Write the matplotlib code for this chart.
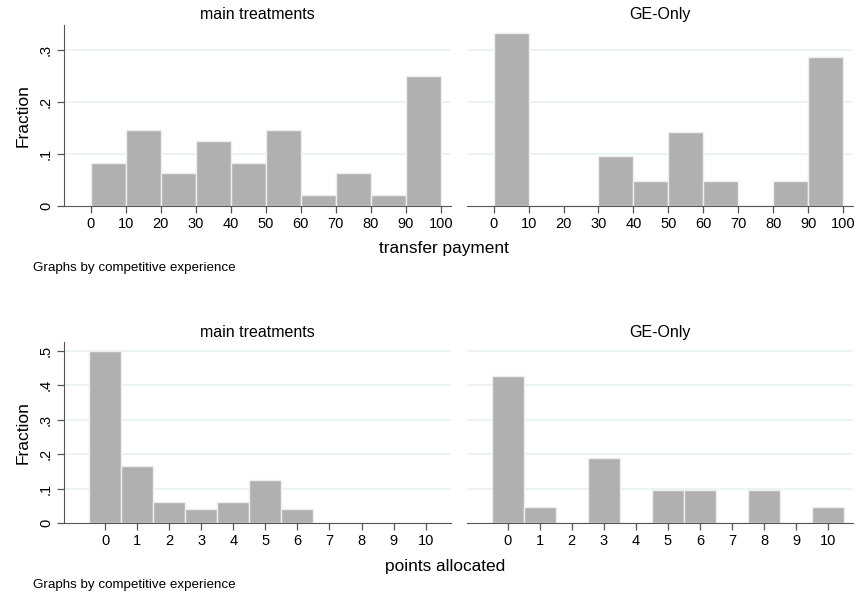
import numpy as np
import matplotlib.pyplot as plt

plt.rcParams['font.family'] = ['Liberation Sans', 'DejaVu Sans']

# transfer payment histograms (bin width 10)
transfer_bins = np.arange(0, 100, 10)
transfer_main = [0.0833, 0.1458, 0.0625, 0.125, 0.0833, 0.1458, 0.0208, 0.0625, 0.0208, 0.25]
transfer_ge = [0.3333, 0, 0, 0.0952, 0.0476, 0.1429, 0.0476, 0, 0.0476, 0.2857]

# points allocated histograms (discrete 0..10)
points_bins = np.arange(0, 11)
points_main = [0.5, 0.1667, 0.0625, 0.0417, 0.0625, 0.125, 0.0417, 0, 0, 0, 0]
points_ge = [0.4286, 0.0476, 0, 0.1905, 0, 0.0952, 0.0952, 0, 0.0952, 0, 0.0476]

panel_titles = ['main treatments', 'GE-Only']

bar_color = '#b0b0b0'
grid_color = '#e9f1f2'
axis_color = '#555555'

fig = plt.figure(figsize=(8.58, 5.97), dpi=100)
W, H = 858, 597


def px_axes(x0, x1, ytop, ybot):
    return fig.add_axes([x0 / W, 1 - ybot / H, (x1 - x0) / W, (ybot - ytop) / H])


def style(ax, yticks, ylabels, show_y):
    for s in ['top', 'right']:
        ax.spines[s].set_visible(False)
    ax.spines['bottom'].set_color(axis_color)
    ax.spines['left'].set_color(axis_color)
    ax.spines['left'].set_visible(show_y)
    ax.set_yticks(yticks)
    ax.tick_params(axis='both', colors=axis_color, labelcolor='black',
                   labelsize=10.5, length=5, width=0.9, pad=3)
    if show_y:
        ax.set_yticklabels(ylabels, rotation=90, va='center')
    else:
        ax.tick_params(axis='y', left=False, labelleft=False)
    for yv in yticks[1:]:
        ax.axhline(yv, color=grid_color, lw=1.2, zorder=0)


# top row
top_yt = [0, 0.1, 0.2, 0.3]
top_yl = ['0', '.1', '.2', '.3']
for i, (vals, x0, x1) in enumerate([(transfer_main, 64, 450.7), (transfer_ge, 466.7, 853)]):
    ax = px_axes(x0, x1, 25, 206)
    ax.bar(transfer_bins, vals, width=10, align='edge', color=bar_color,
           edgecolor='#eeeeee', linewidth=1, zorder=2)
    ax.set_xlim(-7.7, 102.8)
    ax.set_ylim(0, 0.348)
    ax.set_xticks(np.arange(0, 101, 10))
    style(ax, top_yt, top_yl, i == 0)
    ax.set_title(panel_titles[i], fontsize=11.5, pad=4)
    if i == 0:
        ax.set_ylabel('Fraction', fontsize=12.5, labelpad=6)

# bottom row
bot_yt = [0, 0.1, 0.2, 0.3, 0.4, 0.5]
bot_yl = ['0', '.1', '.2', '.3', '.4', '.5']
for i, (vals, x0, x1) in enumerate([(points_main, 64, 450.7), (points_ge, 466.7, 853)]):
    ax = px_axes(x0, x1, 342.3, 523.3)
    ax.bar(points_bins, vals, width=1, color=bar_color,
           edgecolor='#eeeeee', linewidth=1, zorder=2)
    ax.set_xlim(-1.28, 10.78)
    ax.set_ylim(0, 0.525)
    ax.set_xticks(points_bins)
    style(ax, bot_yt, bot_yl, i == 0)
    ax.set_title(panel_titles[i], fontsize=11.5, pad=4)
    if i == 0:
        ax.set_ylabel('Fraction', fontsize=12.5, labelpad=6)

fig.text(444 / W, 1 - 249 / H, 'transfer payment', ha='center', va='center', fontsize=12.4)
fig.text(33 / W, 1 - 268 / H, 'Graphs by competitive experience', ha='left', va='center', fontsize=9.6)
fig.text(445 / W, 1 - 567 / H, 'points allocated', ha='center', va='center', fontsize=12.4)
fig.text(33 / W, 1 - 585 / H, 'Graphs by competitive experience', ha='left', va='center', fontsize=9.6)

fig.savefig('out.png', dpi=100)
